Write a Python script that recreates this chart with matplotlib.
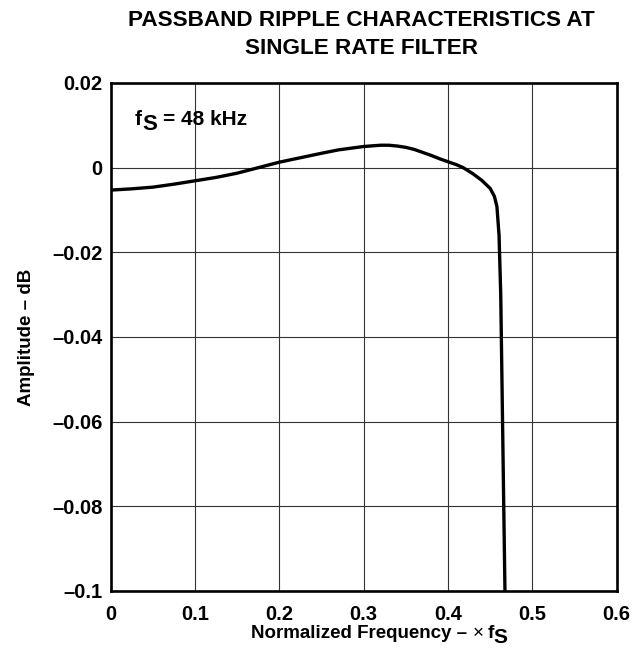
import matplotlib
matplotlib.use("Agg")
import matplotlib.pyplot as plt
from matplotlib.transforms import IdentityTransform

plt.rcParams['font.family'] = ['Liberation Sans', 'DejaVu Sans']

# curve (normalized frequency, amplitude in dB)
freq = [0, 0.025, 0.05, 0.075, 0.1, 0.125, 0.15, 0.175, 0.2, 0.25, 0.27, 0.3,
        0.32, 0.33, 0.34, 0.35, 0.36, 0.37, 0.38, 0.39, 0.4, 0.41, 0.418, 0.43,
        0.44, 0.45, 0.455, 0.458, 0.4605, 0.4625, 0.4675]
amp = [-0.0053, -0.0050, -0.0046, -0.0039, -0.0031, -0.0023, -0.0013, 0.0000,
       0.0013, 0.0034, 0.0042, 0.0050, 0.0053, 0.0053, 0.0051, 0.0048, 0.0043,
       0.0036, 0.0029, 0.0021, 0.0014, 0.0007, 0.0, -0.0015, -0.0030,
       -0.0049, -0.0068, -0.0092, -0.016, -0.03, -0.1]

xticks = [0, 0.1, 0.2, 0.3, 0.4, 0.5, 0.6]
xticklabels = ['0', '0.1', '0.2', '0.3', '0.4', '0.5', '0.6']
yticks = [0.02, 0, -0.02, -0.04, -0.06, -0.08, -0.1]
yticklabels = ['0.02', '0', '\u20130.02', '\u20130.04', '\u20130.06', '\u20130.08', '\u20130.1']

fig = plt.figure(figsize=(6.39, 6.55), dpi=100)
ax = fig.add_axes([110.7 / 639, 64 / 655, 506 / 639, 508 / 655])

ax.plot(freq, amp, color='black', lw=2.4, solid_joinstyle='round',
        solid_capstyle='butt', zorder=3)

ax.set_xlim(0, 0.6)
ax.set_ylim(-0.1, 0.02)
ax.set_xticks(xticks)
ax.set_xticklabels(xticklabels, fontsize=14.5, fontweight='bold')
ax.set_yticks(yticks)
ax.set_yticklabels(yticklabels, fontsize=14.5, fontweight='bold')
ax.tick_params(length=0)
ax.tick_params(axis='x', pad=10)
ax.tick_params(axis='y', pad=6)
ax.grid(True, color='#333333', lw=0.8)
for s in ax.spines.values():
    s.set_linewidth(1.9)

ax.set_ylabel('Amplitude \u2013 dB', fontsize=13.5, fontweight='bold')
ax.yaxis.set_label_coords(-0.150, 0.5)

fig.text(361 / 639, 1 - 25.5 / 655, 'PASSBAND RIPPLE CHARACTERISTICS AT',
         ha='center', va='baseline', fontsize=16.2, fontweight='bold')
fig.text(361 / 639, 1 - 54.5 / 655, 'SINGLE RATE FILTER',
         ha='center', va='baseline', fontsize=16.2, fontweight='bold')

renderer = fig.canvas.get_renderer()


def put_parts(parts, x, y, center=False):
    # parts: (text, size, weight, dy, gap after) laid out on a common baseline, pixels
    made = []
    cur = x
    for txt, size, weight, dy, gap in parts:
        t = fig.text(cur, y + dy, txt, fontsize=size, fontweight=weight,
                     ha='left', va='baseline', transform=IdentityTransform())
        w = t.get_window_extent(renderer).width
        made.append(t)
        cur += w + gap
    if center:
        shift = (cur - x) / 2
        for t in made:
            px, py = t.get_position()
            t.set_position((px - shift, py))


# x axis label with subscript S
put_parts([('Normalized Frequency \u2013', 13.5, 'bold', 0, 5),
           ('\u00d7', 13.5, 'normal', 0, 4),
           ('f', 13.5, 'bold', 0, 0),
           ('S', 15, 'bold', -5, 0)],
          379.5, 655 - 638, center=True)

# fS annotation inside the axes
put_parts([('f', 15, 'bold', 0, 0),
           ('S', 16, 'bold', -5, 6),
           ('= 48 kHz', 15, 'bold', 0, 0)],
          135, 655 - 125)

fig.savefig('out.png', dpi=100)
